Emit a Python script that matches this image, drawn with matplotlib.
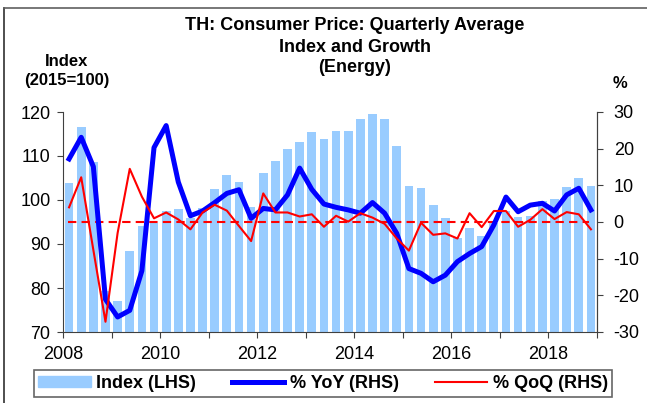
import numpy as np
import matplotlib.pyplot as plt
from matplotlib.lines import Line2D
from matplotlib.patches import Patch

# quarterly data, Q1 2008 .. Q4 2018
index_vals = [103.8, 116.6, 108.7, 79.3,
              77.0, 88.3, 94.2, 94.7,
              97.4, 98.0, 95.9, 98.2,
              102.5, 105.6, 104.0, 98.5,
              106.2, 108.8, 111.6, 113.2,
              115.5, 113.8, 115.7, 115.7,
              118.5, 119.6, 118.3, 112.2,
              103.1, 102.8, 98.9, 95.8,
              91.3, 93.6, 91.9, 94.7,
              97.5, 96.1, 96.4, 99.8,
              100.3, 103.0, 105.1, 103.1]

yoy = [17.2, 23.1, 15.1, -21.1,
       -25.9, -24.1, -13.3, 20.3,
       26.3, 10.9, 1.7, 3.0,
       5.3, 7.8, 8.8, 1.0,
       3.7, 3.3, 7.4, 14.7,
       8.9, 4.9, 4.0, 3.3,
       2.4, 5.3, 2.4, -3.1,
       -12.7, -14.0, -16.3, -14.5,
       -10.8, -8.6, -6.7, -0.8,
       6.8, 2.8, 4.6, 5.1,
       3.0, 7.4, 9.2, 3.3]

qoq = [4.0, 12.2, -7.6, -27.2,
       -3.0, 14.5, 6.9, 1.0,
       2.6, 0.7, -2.0, 2.6,
       4.7, 3.1, -1.1, -5.2,
       7.8, 2.6, 2.6, 1.5,
       2.1, -1.3, 1.7, 0.1,
       2.4, 1.2, -0.5, -4.5,
       -7.8, -0.2, -3.5, -3.1,
       -4.5, 2.4, -1.4, 3.0,
       3.0, -1.3, 0.6, 3.5,
       0.8, 2.7, 2.1, -2.0]

years = list(range(2008, 2020))
year_labels = [str(y) if y % 2 == 0 and y < 2019 else '' for y in years]

plt.rcParams['font.family'] = ['Liberation Sans', 'DejaVu Sans']
plt.rcParams['axes.unicode_minus'] = False

# x positions = middle of each quarter
x = 2008 + (np.arange(len(index_vals)) + 0.5) / 4

fig = plt.figure(figsize=(6.47, 4.03), dpi=100)
ax = fig.add_axes([63/647, 1 - 332/403, (597-63)/647, (332-112)/403])
ax2 = ax.twinx()

ax.bar(x, index_vals, width=0.18, color='#99CCFF', zorder=1)
ax.set_ylim(70, 120)
ax.set_xlim(2008, 2019)
ax.set_yticks([70, 80, 90, 100, 110, 120])
ax.set_xticks(years)
ax.set_xticklabels(year_labels)

ax2.plot(x, yoy, color='#0000FF', lw=3.6, solid_joinstyle='round', zorder=3)
ax2.plot(x, qoq, color='#FF0000', lw=1.5, zorder=4)
ax2.axhline(0, xmin=0.01, xmax=0.985, color='#FF0000', lw=1.5, ls=(0, (4, 2.5)), zorder=2)
ax2.set_ylim(-30, 30)
ax2.set_yticks([-30, -20, -10, 0, 10, 20, 30])

for a in (ax, ax2):
    a.spines['top'].set_visible(False)
    for s in a.spines.values():
        s.set_color('#404040')
ax2.spines['left'].set_visible(False)
ax2.spines['bottom'].set_visible(False)

ax.tick_params(axis='y', direction='out', length=4, pad=5, labelsize=13, color='#404040')
ax.tick_params(axis='x', direction='out', length=4, pad=6, labelsize=13, color='#404040')
ax2.tick_params(axis='y', direction='out', length=4, pad=8, labelsize=13, color='#404040')

# titles
fig.text(355/647, 1 - 26/403, 'TH: Consumer Price: Quarterly Average', ha='center', va='center',
         fontsize=13, fontweight='bold')
fig.text(355/647, 1 - 47/403, 'Index and Growth', ha='center', va='center',
         fontsize=13, fontweight='bold')
fig.text(355/647, 1 - 68/403, '(Energy)', ha='center', va='center',
         fontsize=13, fontweight='bold')
fig.text(67/647, 1 - 62/403, 'Index', ha='center', va='center', fontsize=12, fontweight='bold')
fig.text(67/647, 1 - 81/403, '(2015=100)', ha='center', va='center', fontsize=12, fontweight='bold')
fig.text(620/647, 1 - 84/403, '%', ha='center', va='center', fontsize=12, fontweight='bold')

# legend
handles = [Patch(color='#99CCFF'),
           Line2D([], [], color='#0000FF', lw=3.6),
           Line2D([], [], color='#FF0000', lw=1.5)]
labels = ['Index (LHS)', '% YoY (RHS)', '% QoQ (RHS)']
leg = fig.legend(handles, labels, loc='center', ncol=3,
                 bbox_to_anchor=(323/647, 1 - 383.5/403),
                 frameon=True, fancybox=False, edgecolor='#404040', borderpad=0.25,
                 handlelength=2.9, handleheight=0.6, handletextpad=0.3,
                 columnspacing=2.0, borderaxespad=0,
                 prop={'weight': 'bold', 'size': 13})
leg.get_frame().set_linewidth(1.2)

# outer frame (left and top edges)
fig.add_artist(Line2D([4/647, 4/647], [0, 1 - 8/403], color='#303030', lw=1.2))
fig.add_artist(Line2D([4/647, 1], [1 - 8/403, 1 - 8/403], color='#606060', lw=1.2))

fig.savefig('out.png', dpi=100)
